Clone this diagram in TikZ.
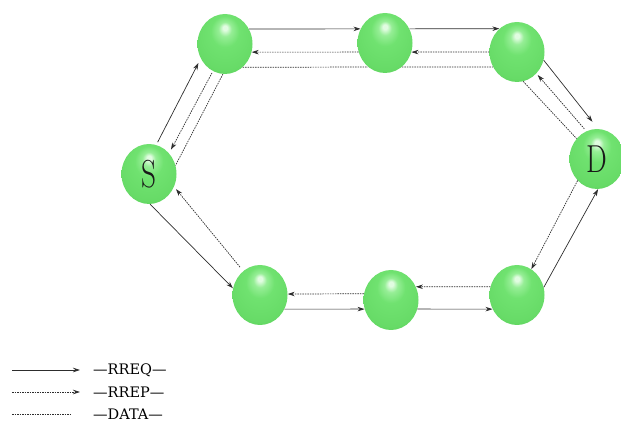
\documentclass[tikz,border=0pt]{standalone}
\usepackage{graphicx}
\usepackage{fontspec}
\newfontfamily\leyfont{DejaVu Serif}
\usetikzlibrary{shapes.geometric}
\usetikzlibrary{arrows.meta}
\definecolor{esfblanco}{RGB}{225,252,225}
\definecolor{esfclaro}{RGB}{150,238,150}
\definecolor{esfmedio}{RGB}{112,226,112}
\definecolor{esfborde}{RGB}{82,202,82}
\definecolor{linea}{RGB}{45,45,45}
\pgfdeclareradialshading{esfera}{\pgfpoint{0bp}{14bp}}{%
  color(0bp)=(esfblanco); color(2bp)=(esfblanco); color(6bp)=(esfclaro);
  color(13bp)=(esfmedio); color(28bp)=(esfmedio!70!esfborde);
  color(38bp)=(esfborde); color(50bp)=(esfborde)}
\newcommand{\letrabola}[1]{{\fontsize{39}{39}\selectfont\scalebox{0.75}[1]{#1}}}
\newcommand{\letraley}{\leyfont\fontsize{14.5}{17}\selectfont}
\tikzset{
  bola/.style={ellipse, minimum width=55pt, minimum height=60pt, inner sep=0pt,
    shade, shading=esfera, text=black!90},
  reqlinea/.style={draw=linea, line width=0.7pt, -{Stealth[length=7pt,width=4.5pt]}},
  replinea/.style={reqlinea, dash pattern=on 1.5pt off 1pt},
  datalinea/.style={draw=linea, line width=0.7pt, dash pattern=on 1.5pt off 1pt},
}

\begin{document}
\begin{tikzpicture}[x=1pt,y=1pt]
  \useasboundingbox (0,0) rectangle (621,423);

  % Nodos
  \node[bola] (S) at (149,249) {\letrabola{S}};
  \node[bola] (A) at (225,379) {};
  \node[bola] (B) at (385,380) {};
  \node[bola] (C) at (517,371) {};
  \node[bola] (D) at (597,264) {\letrabola{D}};
  \node[bola] (E) at (517,128) {};
  \node[bola] (F) at (391,123) {};
  \node[bola] (G) at (260,128) {};

  % Camino de arriba
  \draw[reqlinea, shorten <=3pt, shorten >=5pt] (S.76) -- (A.211);
  \draw[replinea, shorten <=2pt, shorten >=4pt] (A.246) -- (S.46);
  \draw[datalinea] (A.266) -- (S.18);

  \draw[reqlinea] (A.32) -- (B.150);
  \draw[replinea] (B.199) -- (A.-17);
  \draw[datalinea] (A.-53) -- (B.235);

  \draw[reqlinea] (B.30) -- (C.127);
  \draw[replinea] (C.180) -- (B.-19);
  \draw[datalinea] (B.-55) -- (C.212);

  \draw[reqlinea, shorten >=9pt] (C.-17) -- (D.88);
  \draw[replinea, shorten <=3pt, shorten >=2pt] (D.111) -- (C.-48);
  \draw[datalinea] (C.-78) -- (D.135);

  % Camino de abajo
  \draw[reqlinea] (S.-88) -- (G.166);
  \draw[replinea, shorten <=5pt, shorten >=3pt] (G.125) -- (S.-27);

  \draw[reqlinea] (G.-30) -- (F.199);
  \draw[replinea] (F.167) -- (G.2);

  \draw[reqlinea] (F.-19) -- (E.210);
  \draw[replinea] (E.163) -- (F.28);

  \draw[reqlinea] (E.16) -- (D.-88);
  \draw[replinea] (D.-132) -- (E.61);

  % Leyenda
  \coordinate (req1) at (12,53);  \coordinate (req2) at (80,53);
  \coordinate (rep1) at (12,31);  \coordinate (rep2) at (80,31);
  \coordinate (dat1) at (12,9);   \coordinate (dat2) at (72,9);
  \draw[reqlinea] (req1) -- (req2);
  \draw[replinea] (rep1) -- (rep2);
  \draw[datalinea] (dat1) -- (dat2);
  \node[anchor=base west, inner sep=0pt, font=\letraley] (lreq) at (93,48) {—RREQ—};
  \node[anchor=base west, inner sep=0pt, font=\letraley] (lrep) at (93,26) {—RREP—};
  \node[anchor=base west, inner sep=0pt, font=\letraley] (ldat) at (93,4)  {—DATA—};

\end{tikzpicture}
\end{document}
